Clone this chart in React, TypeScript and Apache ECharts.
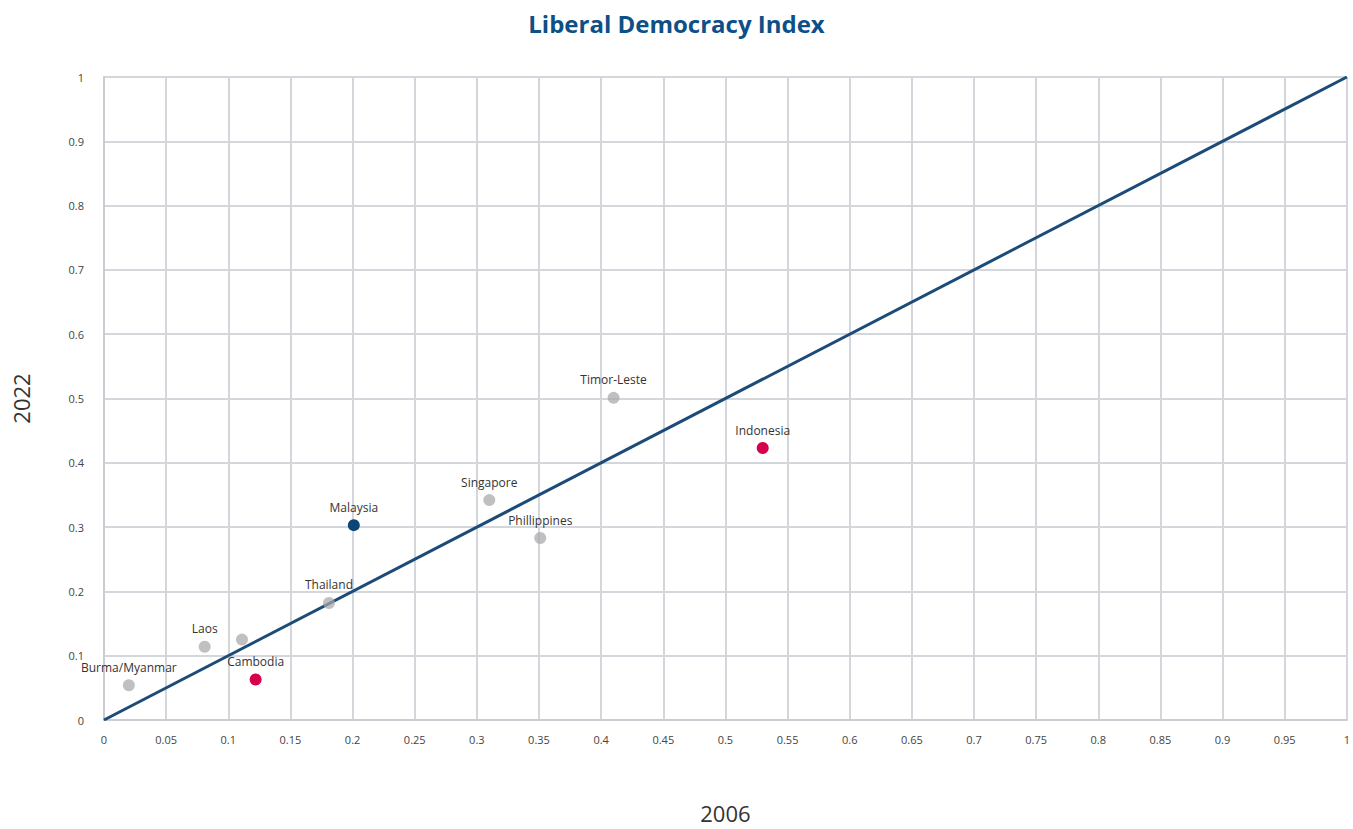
import React, { useEffect, useRef } from "react";
import * as echarts from "echarts";

const countries = ["Burma/Myanmar", "Laos", "", "Cambodia", "Thailand", "Malaysia", "Singapore", "Phillippines", "Timor-Leste", "Indonesia"];
const values2006 = [0.02, 0.081, 0.111, 0.122, 0.181, 0.201, 0.31, 0.351, 0.41, 0.53];
const values2022 = [0.054, 0.114, 0.125, 0.063, 0.182, 0.303, 0.342, 0.283, 0.501, 0.423];
const pointGroups = ["grey", "grey", "grey", "red", "grey", "blue", "grey", "grey", "grey", "red"];
const diagonal = [[0, 0], [1, 1]];

const groupColors: Record<string, string> = {
  grey: "rgba(168,168,172,0.72)",
  red: "#d6004c",
  blue: "#0c4677",
};

export default function App() {
  const ref = useRef<HTMLDivElement>(null);
  useEffect(() => {
    const chart = echarts.init(ref.current!, null, { renderer: "svg" });
    const font = "'Open Sans', 'Noto Sans', sans-serif";
    const labelStyle = {
      position: "top",
      distance: 6,
      formatter: "{b}",
      fontSize: 12,
      color: "#333",
      fontFamily: font,
    };
    const points = countries.map((name, i) => ({
      name,
      value: [values2006[i], values2022[i]],
      itemStyle: { color: groupColors[pointGroups[i]], opacity: 1 },
      label: { ...labelStyle, show: name !== "" },
    }));
    chart.setOption({
      animation: false,
      textStyle: { fontFamily: font },
      title: {
        text: "Liberal Democracy Index",
        left: "center",
        top: 6,
        textStyle: { fontFamily: font, fontSize: 24, fontWeight: "bold", color: "#0d4f86" },
      },
      grid: { left: 104, right: 3, top: 77, bottom: 105 },
      xAxis: {
        type: "value",
        min: 0,
        max: 1,
        interval: 0.05,
        name: "2006",
        nameLocation: "middle",
        nameGap: 82,
        nameTextStyle: { fontSize: 22, color: "#333", fontFamily: font },
        axisLine: { show: true, lineStyle: { color: "#c9ccd1", width: 2 } },
        axisTick: { show: false },
        axisLabel: { fontSize: 11, color: "#444", margin: 14, fontFamily: font },
        splitLine: { show: true, lineStyle: { color: "#d3d6db", width: 2 } },
      },
      yAxis: {
        type: "value",
        min: 0,
        max: 1,
        interval: 0.1,
        name: "2022",
        nameLocation: "middle",
        nameGap: 72,
        nameTextStyle: { fontSize: 22, color: "#333", fontFamily: font },
        axisLine: { show: true, lineStyle: { color: "#c9ccd1", width: 2 } },
        axisTick: { show: false },
        axisLabel: { fontSize: 11, color: "#444", margin: 20, fontFamily: font },
        splitLine: { show: true, lineStyle: { color: "#d3d6db", width: 2 } },
      },
      series: [
        {
          type: "line",
          data: diagonal,
          symbol: "none",
          lineStyle: { color: "#1d4b78", width: 3 },
          z: 3,
          silent: true,
        },
        {
          type: "scatter",
          data: points,
          symbolSize: 12,
          z: 4,
          label: { ...labelStyle, show: true },
        },
      ],
    });
    return () => chart.dispose();
  }, []);
  return <div ref={ref} style={{ position: "absolute", left: 0, top: 0, width: 1353, height: 829 }} />;
}
